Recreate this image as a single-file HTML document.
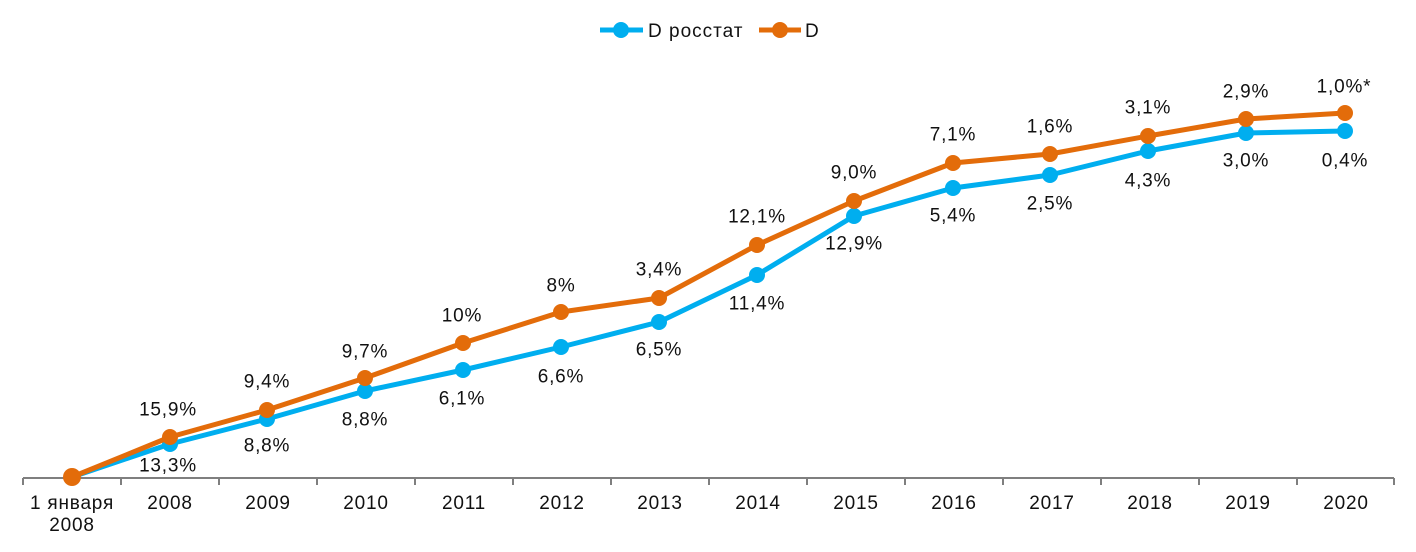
<!DOCTYPE html>
<html><head><meta charset="utf-8"><style>
html,body{margin:0;padding:0;background:#fff;}
svg{display:block;font-family:"Liberation Sans",sans-serif;}
</style></head><body>
<svg width="1416" height="552" viewBox="0 0 1416 552">
<g stroke="#7f7f7f" stroke-width="2" fill="none">
<line x1="23" y1="478" x2="1394" y2="478"/>
<path d="M23 478V485M121 478V485M219 478V485M317 478V485M415 478V485M513 478V485M611 478V485M709 478V485M807 478V485M905 478V485M1003 478V485M1101 478V485M1199 478V485M1297 478V485M1394 478V485"/>
</g>
<g font-size="19" fill="#111" text-anchor="middle" letter-spacing="0.8">
<text x="72" y="509">1 января</text><text x="72" y="531">2008</text>
<text x="170" y="509">2008</text><text x="268" y="509">2009</text><text x="366" y="509">2010</text>
<text x="464" y="509">2011</text><text x="562" y="509">2012</text><text x="660" y="509">2013</text>
<text x="758" y="509">2014</text><text x="856" y="509">2015</text><text x="954" y="509">2016</text>
<text x="1052" y="509">2017</text><text x="1150" y="509">2018</text><text x="1248" y="509">2019</text>
<text x="1346" y="509">2020</text>
</g>
<polyline fill="none" stroke="#00aeef" stroke-width="5" stroke-linejoin="round" points="72,477 170,444 267,419 365,391 463,370 561,347 659,322 757,275 854,216 953,188 1050,175 1148,151 1246,133 1345,131"/>
<g fill="#00aeef">
<circle cx="170" cy="444" r="8"/><circle cx="267" cy="419" r="8"/><circle cx="365" cy="391" r="8"/><circle cx="463" cy="370" r="8"/><circle cx="561" cy="347" r="8"/><circle cx="659" cy="322" r="8"/><circle cx="757" cy="275" r="8"/><circle cx="854" cy="216" r="8"/><circle cx="953" cy="188" r="8"/><circle cx="1050" cy="175" r="8"/><circle cx="1148" cy="151" r="8"/><circle cx="1246" cy="133" r="8"/><circle cx="1345" cy="131" r="8"/>
</g>
<polyline fill="none" stroke="#e36c0a" stroke-width="5" stroke-linejoin="round" points="72,477 170,437 267,410 365,378 463,343 561,312 659,298 757,245 854,201 953,163 1050,154 1148,136 1246,119 1345,113"/>
<g fill="#e36c0a">
<circle cx="72" cy="477" r="9"/><circle cx="170" cy="437" r="8"/><circle cx="267" cy="410" r="8"/><circle cx="365" cy="378" r="8"/><circle cx="463" cy="343" r="8"/><circle cx="561" cy="312" r="8"/><circle cx="659" cy="298" r="8"/><circle cx="757" cy="245" r="8"/><circle cx="854" cy="201" r="8"/><circle cx="953" cy="163" r="8"/><circle cx="1050" cy="154" r="8"/><circle cx="1148" cy="136" r="8"/><circle cx="1246" cy="119" r="8"/><circle cx="1345" cy="113" r="8"/>
</g>
<g font-size="19" fill="#111" text-anchor="middle" dominant-baseline="central" letter-spacing="0.8">
<text x="168" y="410">15,9%</text><text x="267" y="382">9,4%</text><text x="365" y="352">9,7%</text>
<text x="462" y="316">10%</text><text x="561" y="286">8%</text><text x="659" y="270">3,4%</text>
<text x="757" y="217">12,1%</text><text x="854" y="173">9,0%</text><text x="953" y="135">7,1%</text>
<text x="1050" y="127">1,6%</text><text x="1148" y="108">3,1%</text><text x="1246" y="92">2,9%</text>
<text x="1344" y="87">1,0%*</text>
<text x="168" y="466">13,3%</text><text x="267" y="446">8,8%</text><text x="365" y="420">8,8%</text>
<text x="462" y="399">6,1%</text><text x="561" y="377">6,6%</text><text x="659" y="350">6,5%</text>
<text x="757" y="304">11,4%</text><text x="854" y="244">12,9%</text><text x="953" y="216">5,4%</text>
<text x="1050" y="204">2,5%</text><text x="1148" y="181">4,3%</text><text x="1246" y="161">3,0%</text>
<text x="1345" y="161">0,4%</text>
</g>
<line x1="600" y1="30" x2="643" y2="30" stroke="#00aeef" stroke-width="5"/>
<circle cx="621" cy="30" r="8" fill="#00aeef"/>
<text x="648" y="37" font-size="19" fill="#111" letter-spacing="1">D росстат</text>
<line x1="759" y1="30" x2="801" y2="30" stroke="#e36c0a" stroke-width="5"/>
<circle cx="780" cy="30" r="8" fill="#e36c0a"/>
<text x="805" y="37" font-size="19" fill="#111">D</text>
</svg>
</body></html>
